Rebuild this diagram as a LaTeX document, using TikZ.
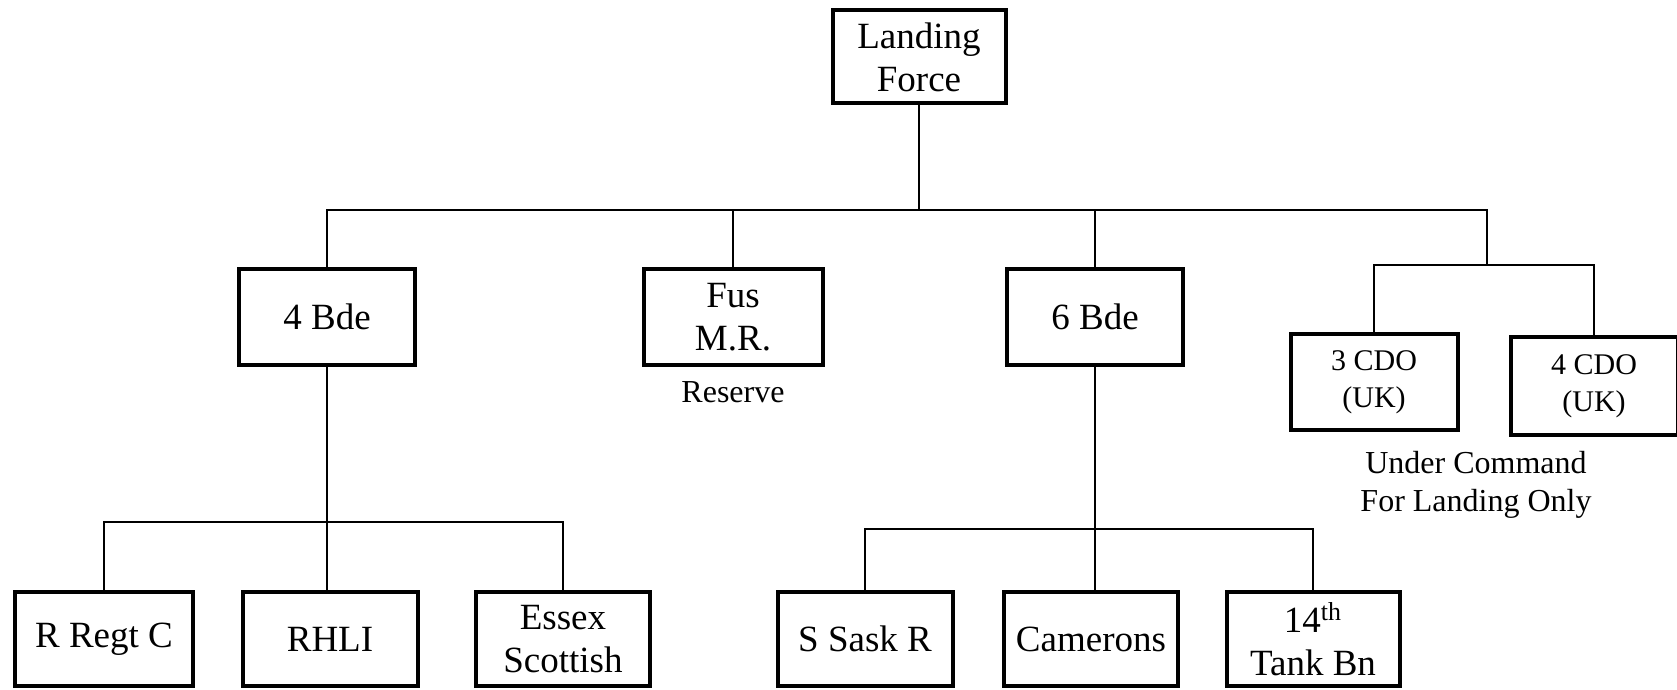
\documentclass[tikz,border=0pt]{standalone}
\usepackage{fontspec}
\setmainfont{Liberation Serif}
\usepackage{tikz}
\usetikzlibrary{positioning}
\tikzset{
    unit-box/.style = {draw, line width=2pt, rectangle, fill=white, align=center, inner sep=2pt, minimum width=88pt, minimum height=48pt, font=\fontsize{18.5}{21.5}\selectfont},
    cdo-box/.style = {unit-box, minimum width=83.5pt, font=\fontsize{15}{18.5}\selectfont},
    unit-note/.style = {align=center, inner sep=1pt, font=\fontsize{16}{19.3}\selectfont},
    link/.style = {line width=1pt},
}

\begin{document}
\begin{tikzpicture}[x=0.5pt, y=-0.5pt]
\useasboundingbox (0,0) rectangle (1677,690);
% bus lines
\coordinate (top-bar) at (0,210);
\coordinate (cdo-split) at (1487,265);
\coordinate (left-bar) at (0,522);
\coordinate (right-bar) at (0,529);

\node[unit-box, minimum width=86.5pt, minimum height=46.5pt] (lf) at (919,57) {Landing\\Force};

\node[unit-box] (bde4) at (327,317) {4 Bde};
\node[unit-box, minimum width=89.5pt] (fus) at (733,317) {Fus\\M.R.};
\node[unit-note, below=6pt] at (fus.south) {Reserve};
\node[unit-box] (bde6) at (1095,317) {6 Bde};

\node[cdo-box] (cdo3) at (1374,382) {3 CDO\\(UK)};
\node[cdo-box, minimum height=49pt] (cdo4) at (1594,386) {4 CDO\\(UK)};
\node[unit-note] (uc) at (1476,485) {Under Command\\For Landing Only};

\node[unit-box, minimum width=89pt, minimum height=47pt] (rregt) at (104,639) {R Regt C};
\node[unit-box, minimum width=87.5pt, minimum height=47pt] (rhli) at (330,639) {RHLI};
\node[unit-box, minimum width=87pt, minimum height=47pt] (essex) at (563,639) {Essex\\Scottish};

\node[unit-box, minimum width=87.5pt, minimum height=47pt] (sask) at (865,639) {S Sask R};
\node[unit-box, minimum width=87pt, minimum height=47pt] (camerons) at (1091,639) {Camerons};
\node[unit-box, minimum width=86.5pt, minimum height=47pt] (tank) at (1313,639) {14\textsuperscript{th}\\Tank Bn};

% top level
\draw[link] (lf.south) -- (lf.south |- top-bar);
\draw[link] (bde4.north) |- (cdo-split |- top-bar) -- (cdo-split);
\draw[link] (fus.north) -- (fus.north |- top-bar);
\draw[link] (bde6.north) -- (bde6.north |- top-bar);
\draw[link] (cdo3.north) |- (cdo-split) -| (cdo4.north);

% 4 Bde
\draw[link] (bde4.south) -- (bde4.south |- rhli.north);
\draw[link] (rregt.north) |- (essex.north |- left-bar) -- (essex.north);

% 6 Bde
\draw[link] (bde6.south) -- (bde6.south |- camerons.north);
\draw[link] (sask.north) |- (tank.north |- right-bar) -- (tank.north);
\end{tikzpicture}
\end{document}
